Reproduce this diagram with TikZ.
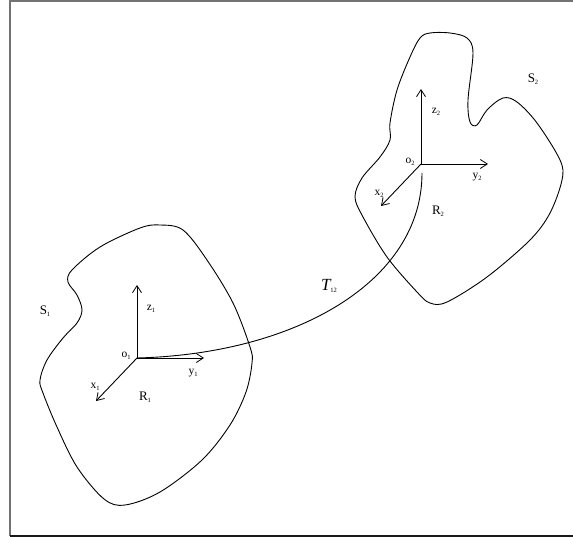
\documentclass[tikz,border=0pt]{standalone}
\usepackage{fontspec}
\setmainfont{Liberation Serif}
\usetikzlibrary{arrows.meta}
\newcommand\lab[2]{#1\raisebox{-0.35ex}{\fontsize{6.5}{7}\selectfont #2}}
\begin{document}
\begin{tikzpicture}[x=1pt,y=-1pt,
  blob/.style={draw=black,line width=0.9pt,smooth cycle,tension=0.55},
  axis/.style={draw=black,line width=0.9pt,-{Straight Barb[length=7pt,width=9pt,line width=0.8pt]}},
  curv/.style={draw=black,line width=0.9pt},
  lbl/.style={inner sep=0pt,font=\fontsize{13}{15}\selectfont},
  slbl/.style={inner sep=0pt,font=\fontsize{11.5}{13}\selectfont}]
\useasboundingbox (0,0) rectangle (573,537);
% frame
\draw[black!55,line width=1.6pt] (573,1) -- (10,1) -- (10,536);
\draw[black!90,line width=1.3pt] (10,536) -- (573,536);
% body S1
\draw[blob] plot coordinates {(72,270) (100,247) (140,228) (160,225) (183,230) (207,260) (233,303)
 (250,347) (252,363) (246,392) (230,425) (202,460) (160,492) (125,505) (104,499)
 (77,467) (57,427) (43,393) (40,380) (47,360) (63,338) (77,323) (82,310) (77,295) (68,282)};
% body S2
\draw[blob] plot coordinates {(430,33) (450,33) (467,38) (473,53) (468,100) (470,122) (477,125)
 (487,110) (503,98) (517,102) (537,123) (560,160) (562,180) (550,213) (530,240) (487,277)
 (447,302) (430,303) (417,292) (387,257) (363,217) (355,197) (362,178) (380,157) (390,140)
 (390,123) (397,90) (410,57) (420,38)};
% frames R1
\coordinate (o1) at (137,358);
\coordinate (z1) at (137,285);
\coordinate (y1) at (204,358);
\coordinate (x1) at (96,401);
\draw[axis] (o1) -- (z1);
\draw[axis] (o1) -- (y1);
\draw[axis] (o1) -- (x1);
% frames R2
\coordinate (o2) at (421,164);
\coordinate (z2) at (421,89);
\coordinate (y2) at (488,164);
\coordinate (x2) at (381,206);
\coordinate (t2) at (422,173);
\draw[axis] (o2) -- (z2);
\draw[axis] (o2) -- (y2);
\draw[axis] (o2) -- (x2);
% transformation T12
\draw[curv] (o1) .. controls (295,354) and (422,282) .. (t2);
% labels
\node[lbl] (S1) at (45,311) {\lab{S}{1}};
\node[lbl] (S2) at (533,79) {\lab{S}{2}};
\node[slbl] (lz1) at (151,309) {\lab{z}{1}};
\node[slbl] (lo1) at (126,356) {\lab{o}{1}};
\node[slbl] (ly1) at (193,373) {\lab{y}{1}};
\node[slbl] (lx1) at (95,387) {\lab{x}{1}};
\node[lbl] (lR1) at (145,397) {\lab{R}{1}};
\node[slbl] (lz2) at (436,112) {\lab{z}{2}};
\node[slbl] (lo2) at (410,162) {\lab{o}{2}};
\node[slbl] (ly2) at (477,177) {\lab{y}{2}};
\node[slbl] (lx2) at (379,194) {\lab{x}{2}};
\node[lbl] (lR2) at (438,211) {\lab{R}{2}};
\node[inner sep=0pt] (T) at (329,286) {\fontsize{17}{19}\selectfont\itshape T\raisebox{-0.3ex}{\upshape\fontsize{6.5}{7}\selectfont 12}};
\end{tikzpicture}
\end{document}
